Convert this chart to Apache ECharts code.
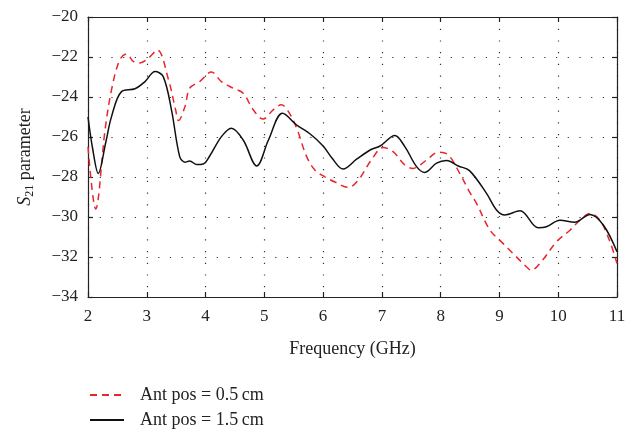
<!DOCTYPE html>
<html><head><meta charset="utf-8">
<script src="https://cdn.jsdelivr.net/npm/echarts@6/dist/echarts.min.js"></script>
<style>html,body{margin:0;padding:0;background:#fff}#c{width:639px;height:433px}</style>
</head><body><div id="c"></div>
<script>
const xTicks = [2,3,4,5,6,7,8,9,10,11];
const yTicks = [-34,-32,-30,-28,-26,-24,-22,-20];
const seriesNames = ['Ant pos = 0.5\u2009cm', 'Ant pos = 1.5\u2009cm'];
const redFreq = [2.00,2.13,2.29,2.40,2.54,2.66,2.77,2.88,3.03,3.18,3.37,3.49,3.54,3.65,3.73,3.90,4.10,4.27,4.47,4.64,4.81,4.98,5.15,5.29,5.41,5.55,5.72,5.86,6.03,6.20,6.43,6.60,6.82,7.02,7.19,7.39,7.53,7.76,7.96,8.13,8.33,8.49,8.61,8.84,9.06,9.26,9.46,9.54,9.71,9.97,10.20,10.37,10.54,10.71,10.88,11.00];
const redVals = [-26.5,-29.6,-25.65,-23.64,-22.14,-21.85,-22.22,-22.30,-22.05,-21.65,-23.14,-24.64,-25.18,-24.48,-23.56,-23.23,-22.75,-23.23,-23.56,-23.81,-24.64,-25.1,-24.64,-24.39,-24.73,-25.56,-26.98,-27.65,-27.99,-28.25,-28.52,-28.15,-27.15,-26.53,-26.73,-27.4,-27.57,-27.15,-26.76,-26.9,-27.85,-28.74,-29.32,-30.66,-31.32,-31.91,-32.49,-32.66,-32.24,-31.24,-30.66,-30.16,-29.82,-30.16,-31.24,-32.32];
const blackFreq = [2.00,2.08,2.175,2.30,2.40,2.57,2.80,2.97,3.14,3.28,3.42,3.56,3.65,3.73,3.85,3.96,4.07,4.27,4.44,4.64,4.87,5.07,5.31,5.55,5.78,6.00,6.15,6.34,6.57,6.80,6.97,7.22,7.39,7.59,7.73,7.93,8.10,8.30,8.49,8.78,8.95,9.09,9.35,9.66,9.80,10.03,10.28,10.54,10.77,11.00];
const blackVals = [-25.0,-26.6,-27.82,-26.3,-24.98,-23.73,-23.59,-23.23,-22.73,-22.98,-24.64,-26.98,-27.26,-27.2,-27.38,-27.35,-26.95,-25.98,-25.56,-26.15,-27.45,-26.15,-24.81,-25.40,-25.85,-26.45,-27.05,-27.6,-27.11,-26.65,-26.45,-25.93,-26.48,-27.48,-27.77,-27.31,-27.18,-27.45,-27.68,-28.82,-29.65,-29.9,-29.69,-30.54,-30.49,-30.16,-30.26,-29.87,-30.41,-31.74];

const FONT = 'Liberation Serif';
const zip = (a,b) => a.map((v,i)=>[v,b[i]]);
const chart = echarts.init(document.getElementById('c'), null, {renderer:'canvas'});
const axisLine = {show:true, lineStyle:{color:'#222', width:1.2}};
const tick = {show:true, inside:true, length:5, lineStyle:{color:'#222', width:1.2}};
const minus = v => String(v).replace('-', '\u2212');
const legendBase = {
  orient:'horizontal', left:84, itemWidth:34, itemHeight:14,
  itemStyle:{opacity:0},
  textStyle:{fontFamily:FONT, fontSize:18, color:'#222', padding:[0,0,0,11]}
};
chart.setOption({
  animation:false,
  grid:{left:88, top:17, right:22, bottom:136, containLabel:false},
  legend:[
    Object.assign({}, legendBase, {top:381, data:[seriesNames[0]]}),
    Object.assign({}, legendBase, {top:406, data:[seriesNames[1]]})
  ],
  xAxis:[{
    type:'value', min:xTicks[0], max:xTicks[xTicks.length-1], interval:1,
    name:'Frequency (GHz)', nameLocation:'middle', nameGap:43,
    nameTextStyle:{fontFamily:FONT, fontSize:18, color:'#222'},
    axisLine, axisTick:tick,
    axisLabel:{fontFamily:FONT, fontSize:17, color:'#222', margin:11},
    splitLine:{show:true, lineStyle:{color:'#333', width:1.2, type:[1.2,10.5], dashOffset:0}}
  },{
    type:'value', position:'top', min:2, max:11, interval:1,
    axisLine, axisTick:tick, axisLabel:{show:false}, splitLine:{show:false}
  }],
  yAxis:[{
    type:'value', min:yTicks[0], max:yTicks[yTicks.length-1], interval:2,
    name:'{s|S}{sub|21}{n| parameter}', nameLocation:'middle', nameGap:52,
    nameTextStyle:{fontFamily:FONT, fontSize:18, color:'#222',
      rich:{
        s:{fontFamily:FONT, fontSize:18, fontStyle:'italic', color:'#222'},
        sub:{fontFamily:FONT, fontSize:12, color:'#222', padding:[9,0,0,0]},
        n:{fontFamily:FONT, fontSize:18, color:'#222'}
      }},
    axisLine, axisTick:tick,
    axisLabel:{fontFamily:FONT, fontSize:17, color:'#222', margin:10, formatter:minus},
    splitLine:{show:true, lineStyle:{color:'#333', width:1.2, type:[1.2,10.5]}}
  },{
    type:'value', position:'right', min:-34, max:-20, interval:2,
    axisLine, axisTick:tick, axisLabel:{show:false}, splitLine:{show:false}
  }],
  series:[{
    name:seriesNames[0], type:'line', data:zip(redFreq, redVals), smooth:0.35,
    showSymbol:false, symbol:'none',
    lineStyle:{color:'#e8262b', width:1.5, type:[7,5]}, itemStyle:{color:'#e8262b'}
  },{
    name:seriesNames[1], type:'line', data:zip(blackFreq, blackVals), smooth:0.35,
    showSymbol:false, symbol:'none',
    lineStyle:{color:'#111', width:1.5, type:'solid'}, itemStyle:{color:'#111'}
  }]
});
</script></body></html>
